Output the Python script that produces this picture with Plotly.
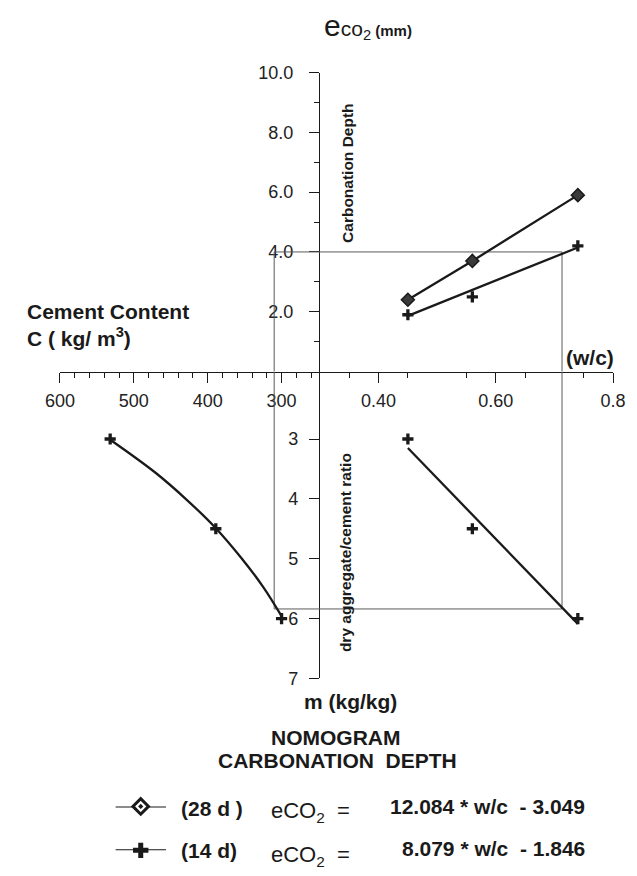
import plotly.graph_objects as go

# ---------------- data ----------------
# upper-right quadrant: carbonation depth e (mm) vs w/c
wc_pts = [0.45, 0.56, 0.74]
e_28d = [2.4, 3.7, 5.9]
e_14d = [1.9, 2.5, 4.2]
wc_fit14 = [0.45, 0.74]
e_fit14 = [1.86, 4.15]

# lower-right quadrant: m (kg/kg) vs w/c
wc_m_pts = [0.45, 0.56, 0.74]
m_pts = [3.0, 4.5, 6.0]
wc_fit_m = [0.45, 0.74]
m_fit_wc = [3.15, 6.09]

# lower-left quadrant: m vs cement content C
C_pts = [532, 389, 300]
C_curve = [531, 471, 428, 389, 355, 325, 300]
m_curve = [3.02, 3.56, 4.02, 4.49, 4.98, 5.47, 5.96]

# example reading path (grey rectangle)
ex_e = 4.0
ex_wc = 0.713
ex_m = 5.84
ex_C = 310

# axes ticks
wc_range = [0.30, 0.80]
wc_ticks = [0.4, 0.6, 0.8]
wc_ticktext = ["0.40", "0.60", "0.8"]
wc_unlabelled = [0.5, 0.7]
wc_minor = [0.35, 0.45, 0.55, 0.65, 0.75]

C_range = [600, 248]
C_ticks = [600, 500, 400, 300]
C_ticktext = ["600", "500", "400", "300"]
C_minor = [580, 560, 540, 520, 480, 460, 440, 420, 380, 360, 340, 320, 280, 260]

e_range = [0, 10]
e_ticks = [2, 4, 6, 8, 10]
e_ticktext = ["2.0", "4.0", "6.0", "8.0", "10.0"]
e_minor = [1, 3, 5, 7, 9]

m_range = [7, 1.873]
m_ticks = [3, 4, 5, 6, 7]
m_ticktext = ["3", "4", "5", "6", "7"]

# ---------------- layout helpers ----------------
W, H = 637, 876
FONT = "Liberation Sans, Arial, Helvetica, sans-serif"
INK = "#1a1a1a"
GREY = "#5a5a5a"


def fx(px):
    return px / W


def fy(py):
    return 1 - py / H


X_SPLIT = 319
X_LEFT = 47
X_RIGHT = 625.5
Y_TOP = 64
Y_MID = 370
Y_BOT = 684

fig = go.Figure()

# grey reading path, drawn per quadrant
fig.add_trace(go.Scatter(
    x=[ex_C, C_range[1], None, ex_C, ex_C],
    y=[ex_e, ex_e, None, ex_e, e_range[0]],
    xaxis="x2", yaxis="y", mode="lines",
    line=dict(color=GREY, width=1), hoverinfo="skip", showlegend=False))
fig.add_trace(go.Scatter(
    x=[wc_range[0], ex_wc, ex_wc],
    y=[ex_e, ex_e, e_range[0]],
    xaxis="x", yaxis="y", mode="lines",
    line=dict(color=GREY, width=1), hoverinfo="skip", showlegend=False))
fig.add_trace(go.Scatter(
    x=[ex_C, ex_C, C_range[1]],
    y=[m_range[1], ex_m, ex_m],
    xaxis="x2", yaxis="y2", mode="lines",
    line=dict(color=GREY, width=1), hoverinfo="skip", showlegend=False))
fig.add_trace(go.Scatter(
    x=[wc_range[0], ex_wc, ex_wc],
    y=[ex_m, ex_m, m_range[1]],
    xaxis="x", yaxis="y2", mode="lines",
    line=dict(color=GREY, width=1), hoverinfo="skip", showlegend=False))

LW = 2.3
diamond = dict(symbol="diamond", size=10, color="#3a3a3a",
               line=dict(color=INK, width=1.5))
cross = dict(symbol="cross-thin", size=8, color=INK,
             line=dict(color=INK, width=3.3))

# upper right: 28 d
fig.add_trace(go.Scatter(
    x=wc_pts, y=e_28d, xaxis="x", yaxis="y", mode="lines+markers",
    line=dict(color=INK, width=LW), marker=diamond, showlegend=False,
    cliponaxis=False))
# upper right: 14 d
fig.add_trace(go.Scatter(
    x=wc_fit14, y=e_fit14, xaxis="x", yaxis="y", mode="lines",
    line=dict(color=INK, width=LW), showlegend=False))
fig.add_trace(go.Scatter(
    x=wc_pts, y=e_14d, xaxis="x", yaxis="y", mode="markers",
    marker=cross, showlegend=False, cliponaxis=False))

# lower right
fig.add_trace(go.Scatter(
    x=wc_fit_m, y=m_fit_wc, xaxis="x", yaxis="y2", mode="lines",
    line=dict(color=INK, width=LW), showlegend=False, cliponaxis=False))
fig.add_trace(go.Scatter(
    x=wc_m_pts, y=m_pts, xaxis="x", yaxis="y2", mode="markers",
    marker=cross, showlegend=False, cliponaxis=False))

# lower left
fig.add_trace(go.Scatter(
    x=C_curve, y=m_curve, xaxis="x2", yaxis="y2", mode="lines",
    line=dict(color=INK, width=LW, shape="spline", smoothing=1.0),
    showlegend=False, cliponaxis=False))
fig.add_trace(go.Scatter(
    x=C_pts, y=m_pts, xaxis="x2", yaxis="y2", mode="markers",
    marker=cross, showlegend=False, cliponaxis=False))

# legend samples (own hidden axes)
legend_rows = [1, 0]
fig.add_trace(go.Scatter(
    x=[0, 1], y=[legend_rows[0]] * 2, xaxis="x5", yaxis="y5", mode="lines",
    line=dict(color=INK, width=LW), showlegend=False, cliponaxis=False))
fig.add_trace(go.Scatter(
    x=[0.5], y=[legend_rows[0]], xaxis="x5", yaxis="y5", mode="markers",
    marker=dict(symbol="diamond-dot", size=12, color="white",
                line=dict(color=INK, width=3)),
    showlegend=False, cliponaxis=False))
fig.add_trace(go.Scatter(
    x=[0, 1], y=[legend_rows[1]] * 2, xaxis="x5", yaxis="y5", mode="lines",
    line=dict(color=INK, width=LW), showlegend=False, cliponaxis=False))
fig.add_trace(go.Scatter(
    x=[0.5], y=[legend_rows[1]], xaxis="x5", yaxis="y5", mode="markers",
    marker=dict(symbol="cross-thin", size=11, color=INK,
                line=dict(color=INK, width=5)),
    showlegend=False, cliponaxis=False))

tickfont = dict(family=FONT, size=18, color="#222")
common = dict(showgrid=False, zeroline=False, fixedrange=True)
overlay_common = dict(showline=False, showticklabels=False, tickwidth=1,
                      tickcolor=INK, **common)

layout = dict(
    width=W, height=H,
    margin=dict(l=0, r=0, t=0, b=0),
    paper_bgcolor="white", plot_bgcolor="rgba(0,0,0,0)",
    showlegend=False, hovermode=False,
    font=dict(family=FONT, color=INK),
    # w/c axis (right)
    xaxis=dict(domain=[fx(X_SPLIT), fx(X_RIGHT)], range=wc_range, anchor="y",
               side="bottom", showline=True, linecolor=INK, linewidth=1,
               ticks="outside", ticklen=10, tickwidth=1, tickcolor=INK,
               tickvals=wc_ticks, ticktext=wc_ticktext, tickfont=tickfont,
               ticklabelstandoff=3, ticklabeloverflow="allow",
               minor=dict(tickvals=wc_minor, ticks="outside", ticklen=5,
                          tickwidth=1, tickcolor=INK, showgrid=False),
               **common),
    xaxis4=dict(overlaying="x", range=wc_range, anchor="y", side="bottom",
                ticks="outside", ticklen=10, tickvals=wc_unlabelled,
                **overlay_common),
    # cement axis (left)
    xaxis2=dict(domain=[fx(X_LEFT), fx(X_SPLIT)], range=C_range, anchor="y",
                side="bottom", showline=True, linecolor=INK, linewidth=1,
                ticks="outside", ticklen=10, tickwidth=1, tickcolor=INK,
                tickvals=C_ticks, ticktext=C_ticktext, tickfont=tickfont,
                ticklabelstandoff=3, ticklabeloverflow="allow",
                minor=dict(tickvals=C_minor, ticks="outside", ticklen=5,
                           tickwidth=1, tickcolor=INK, showgrid=False),
                **common),
    xaxis3=dict(overlaying="x2", range=C_range, anchor="y", side="bottom",
                ticks="inside", ticklen=10, tickvals=C_ticks,
                **overlay_common),
    # e axis (top)
    yaxis=dict(domain=[fy(Y_MID), fy(Y_TOP)], range=e_range, anchor="x",
               side="left", showline=True, linecolor=INK, linewidth=1,
               ticks="outside", ticklen=10, tickwidth=1, tickcolor=INK,
               tickvals=e_ticks, ticktext=e_ticktext, tickfont=tickfont,
               ticklabelstandoff=12, ticklabeloverflow="allow",
               minor=dict(tickvals=e_minor, ticks="outside", ticklen=5,
                          tickwidth=1, tickcolor=INK, showgrid=False),
               **common),
    yaxis3=dict(overlaying="y", range=e_range, anchor="x", side="left",
                ticks="inside", ticklen=10, tickvals=e_ticks,
                minor=dict(tickvals=e_minor, ticks="inside", ticklen=5,
                           tickwidth=1, tickcolor=INK, showgrid=False),
                **overlay_common),
    # m axis (bottom)
    yaxis2=dict(domain=[fy(Y_BOT), fy(Y_MID)], range=m_range, anchor="x",
                side="left", showline=True, linecolor=INK, linewidth=1,
                ticks="outside", ticklen=10, tickwidth=1, tickcolor=INK,
                tickvals=m_ticks, ticktext=m_ticktext, tickfont=tickfont,
                ticklabelstandoff=7, ticklabeloverflow="allow", **common),
    yaxis4=dict(overlaying="y2", range=m_range, anchor="x", side="left",
                ticks="inside", ticklen=10, tickvals=m_ticks,
                **overlay_common),
    # legend sample axes
    xaxis5=dict(domain=[fx(105), fx(158)], range=[0, 1], anchor="y5",
                visible=False, **common),
    yaxis5=dict(domain=[fy(860), fy(815)], range=[0, 1], anchor="x5",
                visible=False, **common),
)
fig.update_layout(**layout)


def ann(text, px, py, size, bold=True, xanchor="center", yanchor="middle",
        angle=0, color=INK):
    if bold:
        text = "<b>" + text + "</b>"
    fig.add_annotation(text=text, x=fx(px), y=fy(py), xref="paper",
                       yref="paper", showarrow=False, xanchor=xanchor,
                       yanchor=yanchor, textangle=angle,
                       font=dict(family=FONT, size=size, color=color))


NB = "\u00a0"
ann("<span style='font-size:30px'>e</span>"
    "<span style='font-size:21px'>co<sub>2</sub></span>"
    "<b style='font-size:15px'>" + NB + "(mm)</b>",
    321, 16, 15, bold=False, xanchor="left")
ann("Carbonation Depth", 347, 167, 15.5, angle=-90)
ann("Cement Content", 10, 309, 21, xanchor="left")
ann("C ( kg/ m<sup>3</sup>)", 10, 335, 21, xanchor="left")
ann("(w/c)", 601, 356, 21)
ann("dry aggregate/cement ratio", 346, 555, 15.5, angle=-90)
ann("m (kg/kg)", 351, 708, 21)
ann("NOMOGRAM", 336, 744, 21)
ann("CARBONATION" + NB + NB + "DEPTH", 337, 768, 21)

ann("(28 d )", 172, 817, 21, xanchor="left")
ann("eCO<sub>2</sub>" + NB + NB + "=", 266, 821, 22, bold=False,
    xanchor="left")
ann("12.084 * w/c" + NB + NB + "- 3.049", 598, 815, 21, xanchor="right")
ann("(14 d)", 172, 860, 21, xanchor="left")
ann("eCO<sub>2</sub>" + NB + NB + "=", 266, 866, 22, bold=False,
    xanchor="left")
ann("8.079 * w/c" + NB + NB + "- 1.846", 598, 858, 21, xanchor="right")

fig.write_html(
    "out.html",
    config={"displayModeBar": False, "staticPlot": True},
    post_script="document.body.style.margin='0';"
                "document.body.style.overflow='hidden';")
